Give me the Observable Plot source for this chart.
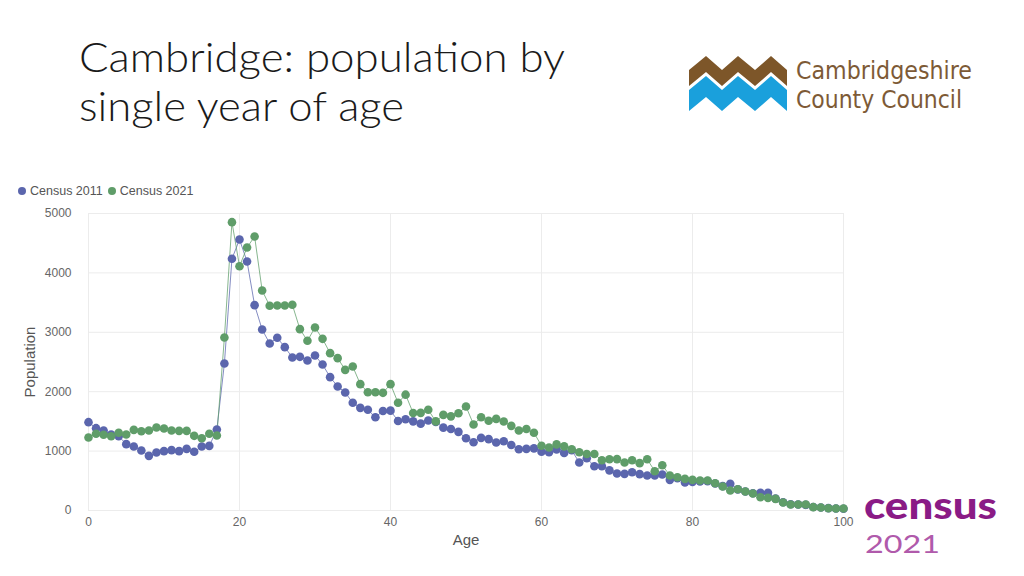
<!DOCTYPE html>
<html>
<head>
<meta charset="utf-8">
<script src="https://cdn.jsdelivr.net/npm/d3@7"></script>
<script src="https://cdn.jsdelivr.net/npm/@observablehq/plot@0.6"></script>
<style>
  html, body { margin: 0; padding: 0; background: #fff; }
  body { width: 1024px; height: 576px; position: relative; overflow: hidden; font-family: "Liberation Sans", Arial, sans-serif; }
  #deco { position: absolute; left: 0; top: 0; }
  #chart { position: absolute; left: 0; top: 200px; }
  #legend { position: absolute; left: 18px; top: 184px; font-size: 12.5px; color: #555; display: flex; align-items: center; white-space: nowrap; }
  #legend .item { display: flex; align-items: center; margin-right: 5px; }
  #legend .sw { width: 8px; height: 8px; border-radius: 50%; margin-right: 4px; }
  #chart g[aria-label="x-axis label"] text, #chart g[aria-label="y-axis label"] text { font-size: 15px; fill: #555; }
</style>
</head>
<body>
<svg id="deco" width="1024" height="576" xmlns="http://www.w3.org/2000/svg">
  <text font-family="Lato, 'Open Sans', sans-serif" font-weight="300" font-size="42" fill="#1a1a1a"><tspan x="79" y="72" textLength="486" lengthAdjust="spacingAndGlyphs">Cambridge: population by</tspan><tspan x="79" y="121" textLength="325" lengthAdjust="spacingAndGlyphs">single year of age</tspan></text>
  <!-- Cambridgeshire County Council logo -->
  <polygon fill="#7d5629" points="689,70 706,56 722,70 738,56 755,70 771,56 787,70 787,86 771,72 755,86 738,72 722,86 706,72 689,86"/>
  <polygon fill="#1aa0dc" points="689,90 706,76 722,90 738,76 755,90 771,76 787,90 787,111 771,97 755,111 738,97 722,111 706,97 689,111"/>
  <text x="796" y="79" font-family="'Liberation Sans Narrow', 'DejaVu Sans Condensed', sans-serif" font-size="25" fill="#7d5a36" textLength="176" lengthAdjust="spacingAndGlyphs">Cambridgeshire</text>
  <text x="796" y="108" font-family="'Liberation Sans Narrow', 'DejaVu Sans Condensed', sans-serif" font-size="25" fill="#7d5a36" textLength="166" lengthAdjust="spacingAndGlyphs">County Council</text>
  <!-- Census 2021 logo -->
  <text x="864" y="519" font-family="Lato, sans-serif" font-weight="900" font-size="37" fill="#8a1b86" textLength="133" lengthAdjust="spacingAndGlyphs">census</text>
  <text x="865" y="553" font-family="Lato, sans-serif" font-weight="400" font-size="25" fill="#b05aab" textLength="75" lengthAdjust="spacingAndGlyphs">2021</text>
</svg>
<div id="legend"></div>
<div id="chart"></div>
<script>
const ages = d3.range(0, 101);
const seriesNames = ["Census 2011", "Census 2021"];
const seriesColors = ["#5b66ad", "#5f9d69"];
const xTicks = [0, 20, 40, 60, 80, 100];
const yTicks = [0, 1000, 2000, 3000, 4000, 5000];

const pop2011 = [
  1487, 1386, 1347, 1280, 1251, 1117, 1077, 1010, 920, 976,
  999, 1016, 999, 1038, 988, 1077, 1088, 1363, 2475, 4237,
  4562, 4192, 3457, 3047, 2811, 2907, 2750, 2576, 2587, 2525,
  2609, 2458, 2245, 2088, 1987, 1813, 1728, 1695, 1571, 1675,
  1681, 1507, 1537, 1501, 1462, 1515, 1490, 1395, 1372, 1324,
  1217, 1150, 1223, 1201, 1145, 1165, 1103, 1030, 1038, 1046,
  988, 982, 1027, 968, 1015, 808, 880, 745, 745, 676,
  622, 617, 645, 612, 589, 589, 606, 516, 545, 471,
  482, 490, 495, 455, 410, 449, 355, 320, 290, 297,
  297, 200, 140, 105, 100, 95, 60, 50, 40, 33,
  30
];
const pop2021 = [
  1229, 1291, 1274, 1251, 1308, 1279, 1358, 1335, 1347, 1397,
  1380, 1347, 1341, 1341, 1257, 1217, 1291, 1263, 2912, 4854,
  4113, 4428, 4613, 3704, 3446, 3451, 3451, 3463, 3053, 2857,
  3081, 2890, 2649, 2565, 2368, 2424, 2127, 1992, 1992, 1981,
  2127, 1813, 1950, 1641, 1644, 1695, 1500, 1610, 1585, 1638,
  1751, 1448, 1571, 1510, 1543, 1498, 1425, 1347, 1372, 1310,
  1090, 1060, 1113, 1080, 1032, 980, 952, 952, 845, 863,
  865, 807, 845, 797, 864, 662, 763, 589, 561, 533,
  516, 505, 505, 460, 404, 337, 359, 320, 286, 224,
  213, 196, 135, 101, 101, 101, 56, 50, 39, 33,
  33
];

const seriesValues = [pop2011, pop2021];
const data = [];
seriesNames.forEach((name, s) => {
  ages.forEach((a, i) => data.push({ age: a, pop: seriesValues[s][i], series: name }));
});

// legend
const legend = document.getElementById("legend");
seriesNames.forEach((name, i) => {
  const item = document.createElement("span");
  item.className = "item";
  item.innerHTML = `<span class="sw" style="background:${seriesColors[i]}"></span><span>${name}</span>`;
  legend.appendChild(item);
});

const chart = Plot.plot({
  width: 870,
  height: 350,
  marginLeft: 88,
  marginRight: 27,
  marginTop: 13,
  marginBottom: 40,
  style: { fontFamily: "'Liberation Sans', Arial, sans-serif", fontSize: "12px", color: "#666", background: "transparent" },
  x: { domain: [0, 100] },
  y: { domain: [0, 5000] },
  color: { domain: seriesNames, range: seriesColors },
  marks: [
    Plot.gridX(xTicks, { stroke: "#ececec", strokeOpacity: 1 }),
    Plot.gridY(yTicks, { stroke: "#ececec", strokeOpacity: 1 }),
    Plot.axisX(xTicks, { tickSize: 0, tickPadding: 7, tickFormat: d3.format("d"), label: "Age", labelAnchor: "center", labelOffset: 34, labelArrow: "none" }),
    Plot.axisY(yTicks, { tickSize: 0, tickPadding: 17, tickFormat: d3.format("d"), label: "Population", labelAnchor: "center", labelOffset: 64, labelArrow: "none" }),
    Plot.line(data, { x: "age", y: "pop", z: "series", stroke: "series", strokeWidth: 1, strokeOpacity: 0.75 }),
    Plot.dot(data, { x: "age", y: "pop", fill: "series", r: 4.3 })
  ]
});
document.getElementById("chart").appendChild(chart);
</script>
</body>
</html>
